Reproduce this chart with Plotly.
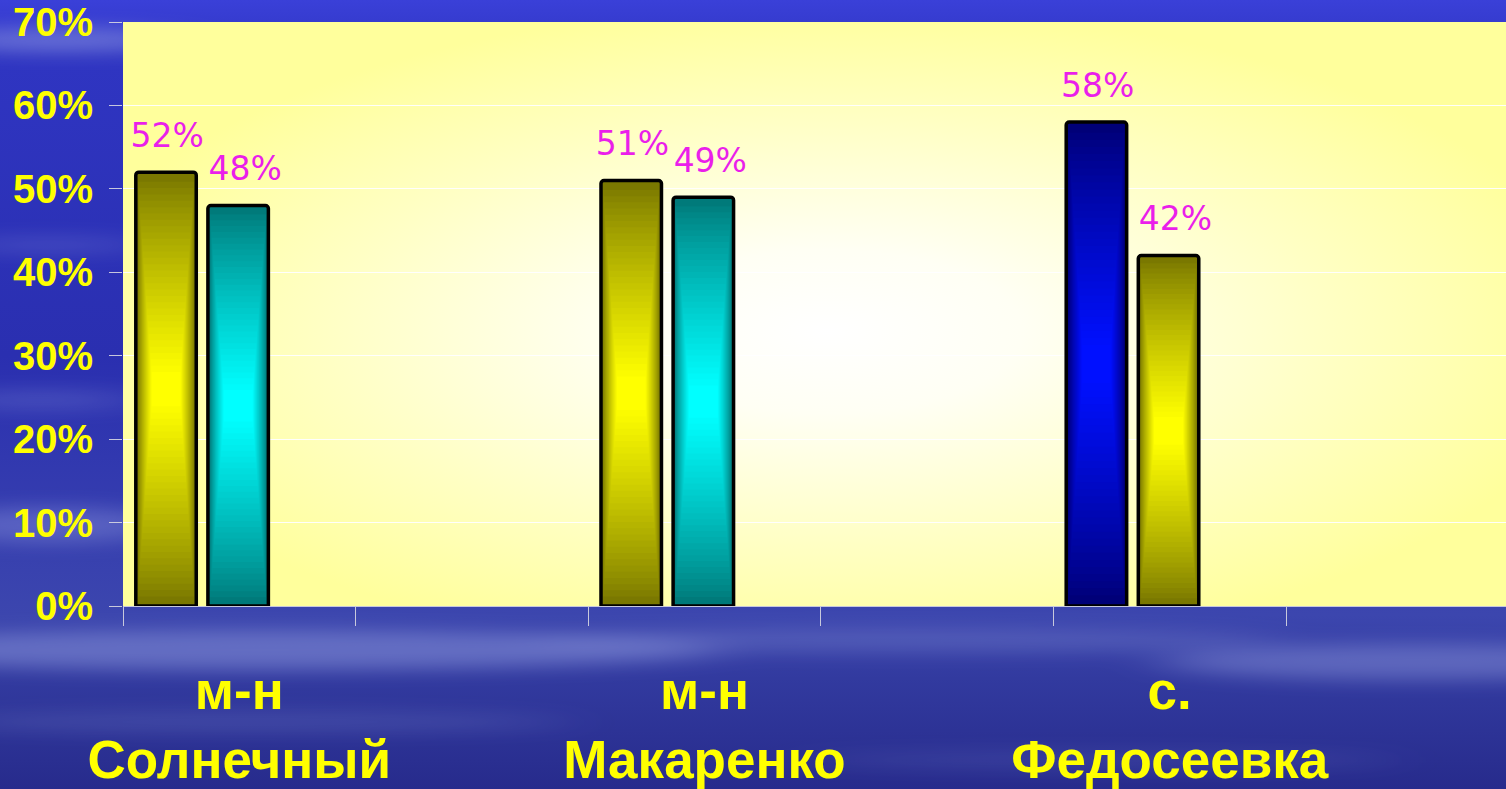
import base64
import plotly.graph_objects as go

# ---------------- data ----------------
categories = ["м-н<br>Солнечный", "м-н<br>Макаренко", "с.<br>Федосеевка"]
series_a = [52, 51, 58]
series_b = [48, 49, 42]
series_a_hues = ["olive", "olive", "blue"]
series_b_hues = ["teal", "teal", "olive"]
y_tick_values = [0, 10, 20, 30, 40, 50, 60, 70]
y_tick_labels = ["0%", "10%", "20%", "30%", "40%", "50%", "60%", "70%"]

# ---------------- styles ----------------
HUES = {
    "olive": ((0x7a, 0x78, 0x00), (0xff, 0xff, 0x00)),
    "teal": ((0x00, 0x7a, 0x7a), (0x00, 0xff, 0xff)),
    "blue": ((0x00, 0x00, 0x78), (0x00, 0x10, 0xff)),
}
BAR_W = 0.26
SERIES_OFFSETS = [-0.445, -0.135]
LABEL_NUDGE = [0.005, 0.03]      # horizontal nudge of value labels (axis units)
N_LAYERS = 32
LABEL_COLOR = "#ea1fea"
TICK_GREY = "rgba(215,215,225,0.9)"

W, H = 1506, 789
ML, MR, MT, MB = 123, 0, 22, 183
PW, PH = W - ML - MR, H - MT - MB
SLOT_PX = 232.6


def lerp(c0, c1, t):
    return "rgb(%d,%d,%d)" % tuple(round(a + (b - a) * t) for a, b in zip(c0, c1))


slots = [2 * i for i in range(len(categories))]

fig = go.Figure()

for values, hues, off, nudge in [(series_a, series_a_hues, SERIES_OFFSETS[0], LABEL_NUDGE[0]),
                                 (series_b, series_b_hues, SERIES_OFFSETS[1], LABEL_NUDGE[1])]:
    for k in range(N_LAYERS):
        t = k / (N_LAYERS - 1)
        hf = 1 - 0.92 * t
        wf = 1 - 0.5 * t
        if k > 0:
            hf *= 0.985
            wf *= 0.95
        colors = [lerp(HUES[h][0], HUES[h][1], t ** 0.85) for h in hues]
        fig.add_trace(go.Bar(
            x=slots,
            y=[v * hf for v in values],
            base=[v * (1 - hf) / 2 for v in values],
            width=BAR_W * wf,
            offset=off + BAR_W * (1 - wf) / 2,
            marker=dict(color=colors, line=dict(width=0),
                        cornerradius=3 if k == 0 else 0),
            showlegend=False, hoverinfo="skip",
        ))
    # border on top
    fig.add_trace(go.Bar(
        x=slots, y=values, width=BAR_W, offset=off,
        marker=dict(color="rgba(0,0,0,0)", line=dict(color="black", width=3.5),
                    cornerradius=3),
        showlegend=False, hoverinfo="skip",
    ))
    # value labels
    fig.add_trace(go.Scatter(
        x=[s + off + BAR_W / 2 + nudge for s in slots],
        y=values,
        mode="markers+text",
        text=["%d%%" % v for v in values],
        textposition="top center",
        marker=dict(size=26, opacity=0),
        textfont=dict(family="DejaVu Sans", size=33, color=LABEL_COLOR),
        cliponaxis=False, showlegend=False, hoverinfo="skip",
    ))

# ---------------- backgrounds ----------------
sky_svg = f"""<svg xmlns='http://www.w3.org/2000/svg' width='{W}' height='{H}' viewBox='0 0 {W} {H}' preserveAspectRatio='none'>
<defs>
<linearGradient id='g' x1='0' y1='0' x2='0' y2='1'>
<stop offset='0' stop-color='#3a40d8'/>
<stop offset='0.07' stop-color='#2f35c2'/>
<stop offset='0.45' stop-color='#2a2fb0'/>
<stop offset='0.78' stop-color='#3c46ae'/>
<stop offset='0.86' stop-color='#323a9f'/>
<stop offset='1' stop-color='#272b8c'/>
</linearGradient>
<filter id='b' x='-30%' y='-300%' width='160%' height='700%'><feGaussianBlur stdDeviation='30 9'/></filter>
</defs>
<rect width='{W}' height='{H}' fill='url(#g)'/>
<g filter='url(#b)' fill='#9aa4e4'>
<ellipse cx='60' cy='40' rx='130' ry='12' opacity='0.5'/>
<ellipse cx='50' cy='245' rx='100' ry='7' opacity='0.25'/>
<ellipse cx='40' cy='400' rx='100' ry='9' opacity='0.25'/>
<ellipse cx='50' cy='525' rx='120' ry='18' opacity='0.35'/>
<ellipse cx='260' cy='650' rx='460' ry='20' opacity='0.45'/>
<ellipse cx='900' cy='640' rx='380' ry='12' opacity='0.25'/>
<ellipse cx='1420' cy='662' rx='260' ry='18' opacity='0.4'/>
<ellipse cx='250' cy='722' rx='320' ry='10' opacity='0.18'/>
<ellipse cx='1100' cy='760' rx='300' ry='8' opacity='0.15'/>
</g>
</svg>"""

plot_svg = f"""<svg xmlns='http://www.w3.org/2000/svg' width='{PW}' height='{PH}' viewBox='0 0 {PW} {PH}' preserveAspectRatio='none'>
<defs>
<radialGradient id='r' cx='0.51' cy='0.53' r='0.56'>
<stop offset='0' stop-color='#ffffff'/>
<stop offset='0.25' stop-color='#fffff4'/>
<stop offset='0.65' stop-color='#ffffc4'/>
<stop offset='1' stop-color='#ffff9c'/>
</radialGradient>
</defs>
<rect width='{PW}' height='{PH}' fill='url(#r)'/>
</svg>"""


def uri(svg):
    return "data:image/svg+xml;base64," + base64.b64encode(svg.encode("utf-8")).decode("ascii")


images = [
    dict(source=uri(sky_svg), xref="paper", yref="paper",
         x=-ML / PW, y=1 + MT / PH, sizex=W / PW, sizey=H / PH,
         xanchor="left", yanchor="top", sizing="stretch", layer="below"),
    dict(source=uri(plot_svg), xref="paper", yref="paper",
         x=0, y=1, sizex=1, sizey=1,
         xanchor="left", yanchor="top", sizing="stretch", layer="below"),
]

x_end = -0.5 + PW / SLOT_PX

fig.update_layout(
    template="none",
    width=W, height=H,
    margin=dict(l=ML, r=MR, t=MT, b=MB, pad=0, autoexpand=False),
    barmode="overlay",
    paper_bgcolor="#2a2fae",
    plot_bgcolor="rgba(0,0,0,0)",
    images=images,
    hovermode=False,
    xaxis=dict(
        range=[-0.5, x_end], fixedrange=True, automargin=False,
        tickmode="array", tickvals=slots, ticktext=categories,
        ticks="", showgrid=False, zeroline=False,
        showline=True, linecolor=TICK_GREY, linewidth=1,
        tickfont=dict(family="Liberation Sans", size=53, color="#ffff00", weight="bold"),
        ticklabelstandoff=38,
        minor=dict(tickmode="linear", tick0=-0.5, dtick=1, ticks="outside",
                   ticklen=19, tickwidth=1, tickcolor=TICK_GREY, showgrid=False),
    ),
    yaxis=dict(
        range=[0, 70], fixedrange=True, automargin=False,
        tickmode="array", tickvals=y_tick_values, ticktext=y_tick_labels,
        ticks="outside", ticklen=13, tickwidth=1, tickcolor=TICK_GREY,
        showgrid=True, gridcolor="rgba(255,255,255,0.95)", gridwidth=1,
        zeroline=False, showline=False,
        tickfont=dict(family="Liberation Sans", size=40, color="#ffff00", weight="bold"),
        ticklabelstandoff=8,
    ),
)

fig.write_html(
    "out.html",
    config={"displayModeBar": False},
    post_script="document.body.style.margin='0';document.body.style.background='#2a2fae';",
)
